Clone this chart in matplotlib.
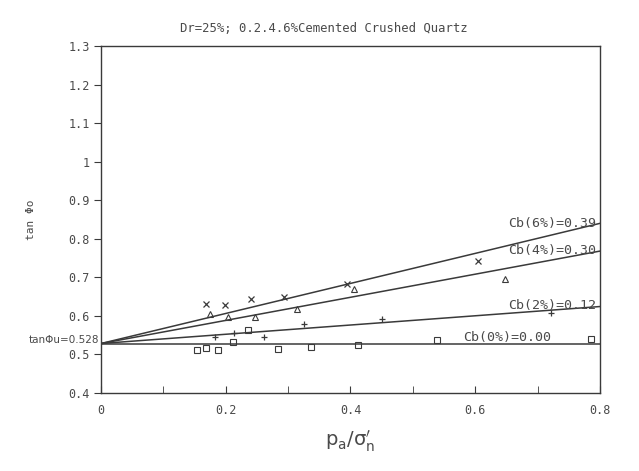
import matplotlib
matplotlib.use("Agg")
import matplotlib.pyplot as plt
import numpy as np

intercept = 0.528
cb_labels = ["Cb(0%)=0.00", "Cb(2%)=0.12", "Cb(4%)=0.30", "Cb(6%)=0.39"]
cb_slopes = [0.00, 0.12, 0.30, 0.39]

x6 = [0.168, 0.199, 0.240, 0.294, 0.395, 0.605]
y6 = [0.630, 0.627, 0.643, 0.649, 0.682, 0.743]

x4 = [0.174, 0.204, 0.247, 0.314, 0.406, 0.647]
y4 = [0.605, 0.598, 0.597, 0.617, 0.670, 0.695]

x2 = [0.183, 0.214, 0.262, 0.326, 0.450, 0.722]
y2 = [0.546, 0.555, 0.545, 0.578, 0.592, 0.607]

x0 = [0.154, 0.169, 0.188, 0.212, 0.235, 0.284, 0.336, 0.412, 0.538, 0.786]
y0 = [0.511, 0.517, 0.512, 0.531, 0.564, 0.513, 0.519, 0.525, 0.537, 0.540]

xticks = [0, 0.2, 0.4, 0.6, 0.8]
xtick_labels = ["0", "0.2", "0.4", "0.6", "0.8"]
yticks = [0.4, 0.5, 0.6, 0.7, 0.8, 0.9, 1.0, 1.1, 1.2, 1.3]
ytick_labels = ["0.4", "0.5", "0.6", "0.7", "0.8", "0.9", "1", "1.1", "1.2", "1.3"]

ink = "#3a3a3a"
txt = "#4a4a4a"
mono = "DejaVu Sans Mono"

fig = plt.figure(figsize=(6.39, 4.71), dpi=100)
ax = fig.add_axes([0.158, 0.166, 0.781, 0.736])

xx = np.array([0.0, 0.8])
for s in cb_slopes:
    ax.plot(xx, intercept + s * xx, color=ink, lw=1.1)

ms = 5
ax.plot(x6, y6, ls="none", marker="x", ms=ms, mec=ink, mew=0.9)
ax.plot(x4, y4, ls="none", marker="^", ms=ms, mfc="none", mec=ink, mew=0.8)
ax.plot(x2, y2, ls="none", marker="+", ms=ms, mec=ink, mew=0.9)
ax.plot(x0, y0, ls="none", marker="s", ms=ms, mfc="none", mec=ink, mew=0.8)

# line labels (centred on their lines, as in the original)
for lab, s in zip(cb_labels[1:], cb_slopes[1:]):
    ax.text(0.793, intercept + s * 0.79 + 0.004, lab, ha="right", va="center",
            fontsize=9.5, family=mono, color=txt)
ax.text(0.722, intercept + 0.016, cb_labels[0], ha="right", va="center",
        fontsize=9.5, family=mono, color=txt)

ax.set_xlim(0, 0.8)
ax.set_ylim(0.4, 1.3)
ax.set_xticks(xticks)
ax.set_xticklabels(xtick_labels, family=mono, fontsize=8.5, color=txt)
ax.set_xticks(np.arange(0.1, 0.8, 0.2), minor=True)
ax.set_yticks(yticks)
ax.set_yticklabels(ytick_labels, family=mono, fontsize=8.5, color=txt)
ax.tick_params(axis="x", which="both", direction="in", length=5, color=ink, pad=8)
ax.tick_params(axis="y", direction="out", length=5, color=ink, pad=3)

for sp in ax.spines.values():
    sp.set_color(ink)
    sp.set_linewidth(1.0)

ax.text(-0.003, intercept + 0.008, "tan\u03a6u=0.528", ha="right", va="center", fontsize=7.5,
        color=txt, transform=ax.transData, clip_on=False)

fig.text(0.048, 0.533, "tan \u03a6o", rotation=90, ha="center", va="center",
         fontsize=8, color=txt, family=mono)
fig.text(0.507, 0.94, "Dr=25%; 0.2.4.6%Cemented Crushed Quartz", ha="center", va="center",
         fontsize=8.8, color=txt, family=mono)
ax.set_xlabel(r"$\mathrm{p_a/\sigma_n^{\prime}}$", fontsize=14, color=txt, labelpad=8)

fig.savefig("out.png", dpi=100, facecolor="white")
